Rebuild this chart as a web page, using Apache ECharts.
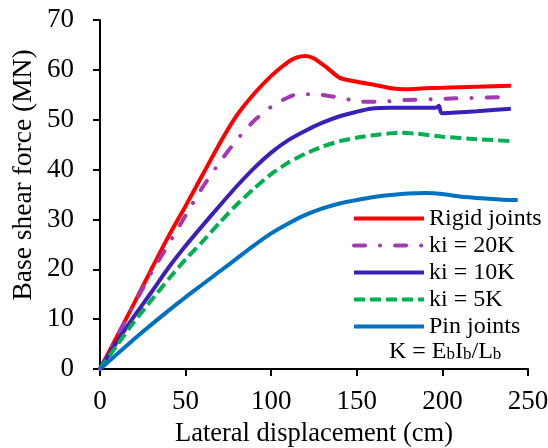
<!DOCTYPE html>
<html>
<head>
<meta charset="utf-8">
<script src="https://cdn.jsdelivr.net/npm/echarts@6/dist/echarts.min.js"></script>
<style>html,body{margin:0;padding:0;background:#fff}#c{width:548px;height:448px}</style>
</head>
<body>
<div id="c"></div>
<script>
// Series names
var seriesNames = ['Rigid joints', 'ki = 20K', 'ki = 10K', 'ki = 5K', 'Pin joints'];
// [displacement (cm), base shear (MN)]
var rigid = [[0,0],[10,6.6],[20,13.2],[30,20.0],[40,26.6],[50,32.7],[60,39.0],[70,45.3],[80,50.9],[90,55.2],[100,58.8],[110,61.6],[115,62.5],[120,62.8],[125,62.3],[132,60.6],[140,58.4],[150,57.6],[160,57.0],[170,56.3],[178,56.1],[190,56.3],[200,56.4],[220,56.6],[240,56.8]];
var k20 = [[0,0],[10,6.5],[20,13.0],[30,19.3],[40,25.0],[50,30.8],[60,36.5],[70,41.5],[80,46.0],[90,49.8],[100,52.6],[107,54.0],[115,55.1],[126,55.1],[140,54.4],[153,53.6],[165,53.6],[175,53.9],[200,54.2],[240,54.6]];
var k10 = [[0,0],[10,5.5],[20,10.6],[30,15.4],[40,20.3],[50,24.7],[60,28.8],[70,32.8],[80,36.7],[90,40.3],[100,43.4],[110,45.9],[120,47.8],[130,49.4],[140,50.7],[150,51.6],[158,52.2],[170,52.4],[196,52.4],[198,52.8],[199.5,51.3],[220,51.7],[240,52.2]];
var k5 = [[0,0],[10,4.8],[20,9.5],[30,13.8],[40,18.0],[50,22.0],[60,25.6],[70,29.4],[80,33.0],[90,36.2],[100,39.1],[110,41.4],[120,43.2],[130,44.6],[140,45.7],[150,46.4],[160,46.9],[175,47.4],[185,47.2],[200,46.6],[220,46.1],[241,45.7]];
var pin = [[0,0],[10,3.0],[20,6.0],[30,8.9],[40,11.7],[50,14.4],[60,17.0],[70,19.6],[80,22.2],[90,24.8],[100,27.2],[110,29.2],[120,30.9],[130,32.2],[140,33.2],[150,33.9],[160,34.5],[170,34.9],[180,35.2],[190,35.3],[200,35.1],[210,34.6],[225,34.2],[240,33.9],[244,33.9]];
var xTicks = [0, 50, 100, 150, 200, 250];
var yTicks = [0, 10, 20, 30, 40, 50, 60, 70];

var FONT = "'Liberation Serif','Times New Roman',serif";
var chart = echarts.init(document.getElementById('c'), null, {renderer: 'canvas'});
function mk(name, data, color, type, cap) {
  return {
    name: name, type: 'line', data: data, showSymbol: false, symbol: 'none',
    smooth: 0.2, z: 2,
    lineStyle: {color: color, width: 4, type: type, cap: cap || 'butt'},
    itemStyle: {color: color}
  };
}
chart.setOption({
  animation: false,
  backgroundColor: '#fff',
  grid: {left: 100, right: 20, top: 20, bottom: 79, containLabel: false, outerBoundsMode: 'none'},
  xAxis: {
    type: 'value', min: xTicks[0], max: xTicks[xTicks.length - 1], interval: 50,
    name: 'Lateral displacement (cm)', nameLocation: 'middle', nameGap: 52,
    nameTextStyle: {fontFamily: FONT, fontSize: 26.5, color: '#000'},
    axisLine: {lineStyle: {color: '#000', width: 2}},
    axisTick: {show: true, length: 7, lineStyle: {color: '#000', width: 2}},
    axisLabel: {fontFamily: FONT, fontSize: 27, color: '#000', margin: 19},
    splitLine: {show: false}
  },
  yAxis: {
    type: 'value', min: yTicks[0], max: yTicks[yTicks.length - 1], interval: 10,
    axisLine: {show: true, lineStyle: {color: '#000', width: 2}},
    axisTick: {show: true, length: 7, lineStyle: {color: '#000', width: 2}},
    axisLabel: {fontFamily: FONT, fontSize: 27, color: '#000', margin: 26},
    splitLine: {show: false}
  },
  legend: {
    left: 352, top: 205, orient: 'vertical', padding: 0,
    itemWidth: 70, itemHeight: 14, itemGap: 0,
    itemStyle: {opacity: 0},
    lineStyle: {width: 4},
    textStyle: {fontFamily: FONT, fontSize: 24, color: '#000', lineHeight: 27},
    data: seriesNames
  },
  graphic: [
    {type: 'text', x: 24, y: 175, rotation: Math.PI / 2,
     style: {text: 'Base shear force (MN)', font: '27.5px ' + FONT, fill: '#000',
             textAlign: 'center', textVerticalAlign: 'middle'}},
    {type: 'text', left: 389, top: 340,
     style: {
       text: 'K = E{s|b}I{s|b}/L{s|b}',
       font: '24px ' + FONT, fill: '#000',
       rich: {s: {fontSize: 17, fontFamily: FONT, fill: '#000', padding: [6, 0, 0, 0]}}
     }}
  ],
  series: [
    mk(seriesNames[0], rigid, '#FF0000', 'solid'),
    mk(seriesNames[1], k20, '#A23AB4', [11, 15, 0.1, 15], 'round'),
    mk(seriesNames[2], k10, '#3A20B8', 'solid'),
    mk(seriesNames[3], k5, '#00B050', [11, 5]),
    mk(seriesNames[4], pin, '#0070C0', 'solid')
  ]
});
</script>
</body>
</html>
